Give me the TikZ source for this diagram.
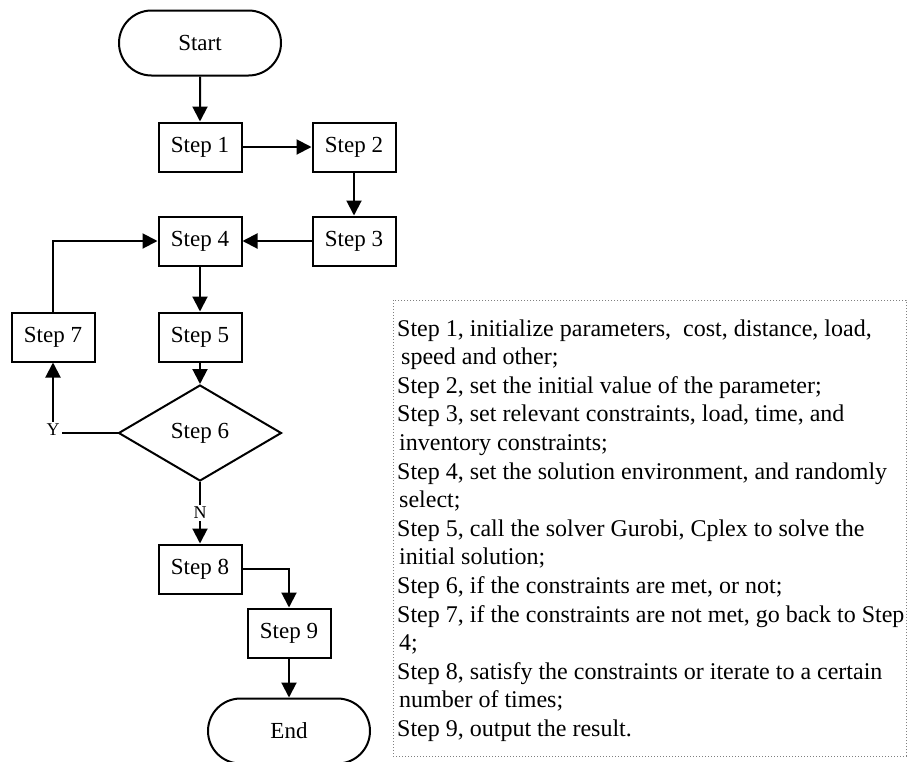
\documentclass[tikz,border=0pt]{standalone}
\usepackage{fontspec}
\setmainfont{Liberation Serif}
\usetikzlibrary{shapes.geometric,shapes.misc,arrows.meta}
\begin{document}
\begin{tikzpicture}[x=1pt,y=-1pt,
  box/.style={draw,line width=2pt,minimum width=83pt,minimum height=49pt,inner sep=0pt,font=\fontsize{23}{27}\selectfont},
  term/.style={draw,line width=2pt,rounded rectangle,minimum width=162pt,minimum height=65pt,inner sep=0pt,font=\fontsize{23}{27}\selectfont},
  dec/.style={draw,line width=2pt,diamond,minimum width=163pt,minimum height=96pt,inner sep=0pt,shape aspect=1.7,font=\fontsize{23}{27}\selectfont},
  arr/.style={line width=2pt,-{Triangle[length=15pt,width=15pt]}},
  ln/.style={line width=2pt},
  lab/.style={font=\fontsize{18}{21}\selectfont,inner sep=2pt},
  txt/.style={anchor=base west,inner sep=0pt,font=\fontsize{24}{28}\selectfont},
  frame/.style={draw=gray,dotted,line width=1pt}
]
\useasboundingbox (0,0) rectangle (907,761);
% flowchart nodes
\node[term] (start) at (200,43) {Start};
\node[box] (s1) at (200,147) {Step 1};
\node[box] (s2) at (354,147) {Step 2};
\node[box] (s3) at (354,241) {Step 3};
\node[box] (s4) at (200,241) {Step 4};
\node[box] (s5) at (200,337) {Step 5};
\node[box] (s7) at (53,337) {Step 7};
\node[dec] (d6) at (200,433) {Step 6};
\node[lab] (Y) at (53,430) {Y};
\node[lab] (N) at (200,513) {N};
\node[box] (s8) at (200,569) {Step 8};
\node[box] (s9) at (289,633) {Step 9};
\node[term] (end) at (289,731) {End};
% connectors
\draw[arr] (start) -- (s1);
\draw[arr] (s1) -- (s2);
\draw[arr] (s2) -- (s3);
\draw[arr] (s3) -- (s4);
\draw[arr] (s4) -- (s5);
\draw[arr] (s5) -- (d6);
\draw[ln] (d6.west) -- (Y.east |- d6.west);
\draw[arr] (Y.north) -- (s7.south);
\draw[arr] (s7.north) |- (s4.west);
\draw[ln] (d6.south) -- (N.north);
\draw[arr] (N.south) -- (s8.north);
\draw[arr] (s8.east) -| (s9.north);
\draw[arr] (s9) -- (end);
% description box
\draw[frame] (393,300) rectangle (906,756);
\node[txt] (t1) at (397,336) {Step 1, initialize parameters,\ \ cost, distance, load,};
\node[txt] (t2) at (401,364.6) {speed and other;};
\node[txt] (t3) at (397,393.2) {Step 2, set the initial value of the parameter;};
\node[txt] (t4) at (397,421.8) {Step 3, set relevant constraints, load, time, and};
\node[txt] (t5) at (399,450.4) {inventory constraints;};
\node[txt] (t6) at (397,479) {Step 4, set the solution environment, and randomly};
\node[txt] (t7) at (399,507.6) {select;};
\node[txt] (t8) at (397,536.2) {Step 5, call the solver Gurobi, Cplex to solve the};
\node[txt] (t9) at (399,564.8) {initial solution;};
\node[txt] (t10) at (397,593.4) {Step 6, if the constraints are met, or not;};
\node[txt] (t11) at (397,622) {Step 7, if the constraints are not met, go back to Step};
\node[txt] (t12) at (399,650.6) {4;};
\node[txt] (t13) at (397,679.2) {Step 8, satisfy the constraints or iterate to a certain};
\node[txt] (t14) at (399,707.8) {number of times;};
\node[txt] (t15) at (397,736.4) {Step 9, output the result.};
\end{tikzpicture}
\end{document}
